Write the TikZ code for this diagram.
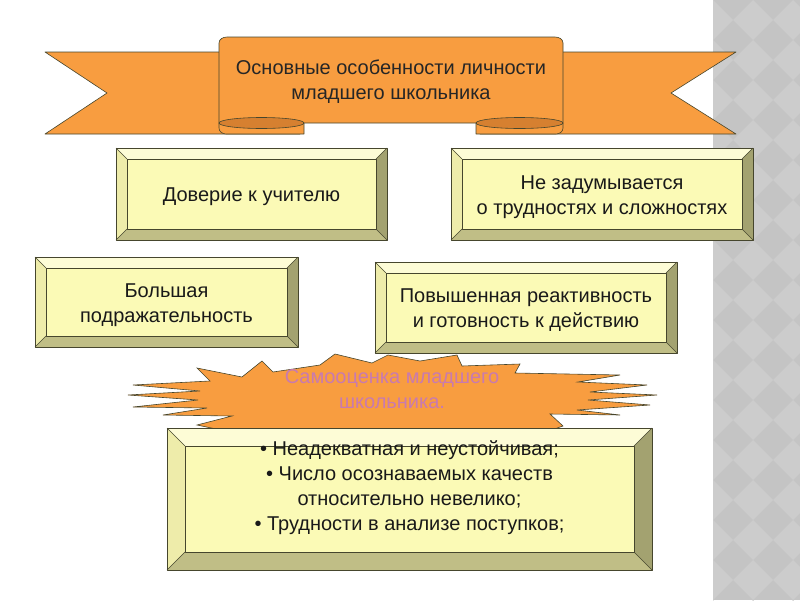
\documentclass[tikz,border=0pt]{standalone}
\usepackage{fontspec}
\setmainfont{Liberation Sans}
\definecolor{ribbonorange}{RGB}{248,157,64}
\definecolor{folddark}{RGB}{214,128,48}
\definecolor{faceyellow}{RGB}{251,250,182}
\definecolor{bevtopc}{RGB}{253,252,214}
\definecolor{bevleftc}{RGB}{238,236,170}
\definecolor{bevrightc}{RGB}{163,162,112}
\definecolor{bevbotc}{RGB}{192,190,134}
\definecolor{edgec}{RGB}{70,70,45}
\definecolor{mauve}{RGB}{200,122,176}
\definecolor{bandgray}{RGB}{196,196,196}
\definecolor{bandlight}{RGB}{204,204,204}
\tikzset{
  ribbon/.style={fill=ribbonorange, draw=edgec, line width=0.6pt, line join=round},
  ribbonfold/.style={fill=folddark, draw=edgec, line width=0.6pt},
  bevtop/.style={fill=bevtopc},
  bevleft/.style={fill=bevleftc},
  bevright/.style={fill=bevrightc},
  bevbot/.style={fill=bevbotc},
  boxface/.style={fill=faceyellow},
  boxedge/.style={draw=edgec, line width=0.6pt, line join=round},
  boxtext/.style={align=center, text=black!90, yshift=-3pt, font=\fontsize{20}{25}\selectfont},
  burst/.style={fill=ribbonorange, draw=edgec, line width=0.6pt, line join=miter},
  bursttext/.style={align=center, text=mauve, font=\fontsize{20}{25}\selectfont},
}
% bevelled box: [node options]{name}{x1}{y1}{x2}{y2}{bevel}{text}
\newcommand{\bevelbox}[8][]{%
  \coordinate (#2-nw) at (#3,#4);
  \coordinate (#2-ne) at (#5,#4);
  \coordinate (#2-se) at (#5,#6);
  \coordinate (#2-sw) at (#3,#6);
  \coordinate (#2-inw) at (#3+#7,#4+#7);
  \coordinate (#2-ine) at (#5-#7,#4+#7);
  \coordinate (#2-ise) at (#5-#7,#6-#7);
  \coordinate (#2-isw) at (#3+#7,#6-#7);
  \fill[bevtop] (#2-nw) -- (#2-ne) -- (#2-ine) -- (#2-inw) -- cycle;
  \fill[bevleft] (#2-nw) -- (#2-inw) -- (#2-isw) -- (#2-sw) -- cycle;
  \fill[bevright] (#2-ne) -- (#2-se) -- (#2-ise) -- (#2-ine) -- cycle;
  \fill[bevbot] (#2-sw) -- (#2-isw) -- (#2-ise) -- (#2-se) -- cycle;
  \fill[boxface] (#2-inw) rectangle (#2-ise);
  \draw[boxedge] (#2-nw) rectangle (#2-se);
  \draw[boxedge] (#2-inw) rectangle (#2-ise);
  \draw[boxedge] (#2-nw) -- (#2-inw) (#2-ne) -- (#2-ine)
    (#2-se) -- (#2-ise) (#2-sw) -- (#2-isw);
  \node[boxtext,#1] (#2) at ({(#3+#5)/2},{(#4+#6)/2}) {#8};
}
\begin{document}
\begin{tikzpicture}[x=1pt, y=-1pt]
  \useasboundingbox (0,0) rectangle (800,600);

  % grey band on the right
  \fill[bandgray] (713,0) rectangle (800,600);
  \begin{scope}
    \clip (713,0) rectangle (800,600);
    \foreach \r in {0,...,15}
      \foreach \c in {0,1,2}
        \fill[bandlight] (713+40*\c,40*\r) -- ++(20,20) -- ++(-20,20) -- ++(-20,-20) -- cycle;
  \end{scope}

  % ribbon tails
  \draw[ribbon] (45,52) -- (300,52) -- (300,134) -- (45,134) -- (107,93) -- cycle;
  \draw[ribbon] (736,52) -- (480,52) -- (480,134) -- (736,134) -- (671,93) -- cycle;
  % ribbon folds
  \draw[ribbon] (304,123) -- (304,134) -- (226,134) to[out=180,in=270] (219,128) -- (219,123);
  \draw[ribbon] (476,123) -- (476,134) -- (556,134) to[out=0,in=270] (563,128) -- (563,123);
  % ribbon middle panel
  \draw[ribbon] (219,123) -- (219,43) to[out=90,in=180] (227,37) -- (555,37)
    to[out=0,in=90] (563,43) -- (563,123) -- cycle;
  \draw[ribbonfold] (261.5,123) ellipse (42.5 and 5.5);
  \draw[ribbonfold] (519.5,123) ellipse (43.5 and 5.5);
  \node[boxtext, text=black!85] (title) at (391,79)
    {Основные особенности личности\\младшего школьника};

  % the four boxes
  \bevelbox{trust}{116}{148}{387}{240}{11}{Доверие к учителю}
  \bevelbox{careless}{451}{148}{753}{240}{11}{Не задумывается\\о трудностях и сложностях}
  \bevelbox{imitation}{35}{257}{298}{347}{11}{Большая\\подражательность}
  \bevelbox{reactive}{375}{262}{677}{353}{11}{Повышенная реактивность\\и готовность к действию}

  % starburst
  \draw[burst] (128,395) -- (200,391) -- (133,385) -- (210,381) -- (197,368)
    -- (242,377) -- (262,361) -- (273,372) -- (320,365) -- (335,354) -- (372,363)
    -- (388,355) -- (420,361) -- (457,355) -- (462,366) -- (520,364) -- (515,373)
    -- (620,375) -- (578,382) -- (647,385) -- (590,392) -- (657,395) -- (588,400)
    -- (650,405) -- (577,410) -- (620,415) -- (550,414) -- (563,426) -- (540,434)
    -- (240,434) -- (197,425) -- (232,416) -- (163,415) -- (207,408) -- (133,407)
    -- (198,400) -- cycle;
  \node[bursttext] (selfesteem) at (392,389) {Самооценка младшего\\школьника.};

  % bottom box
  \bevelbox[yshift=14.5pt]{traits}{167}{428}{652}{570}{18}{%
    • Неадекватная и неустойчивая;\\
    • Число осознаваемых качеств\\
    относительно невелико;\\
    • Трудности в анализе поступков;}
\end{tikzpicture}
\end{document}
